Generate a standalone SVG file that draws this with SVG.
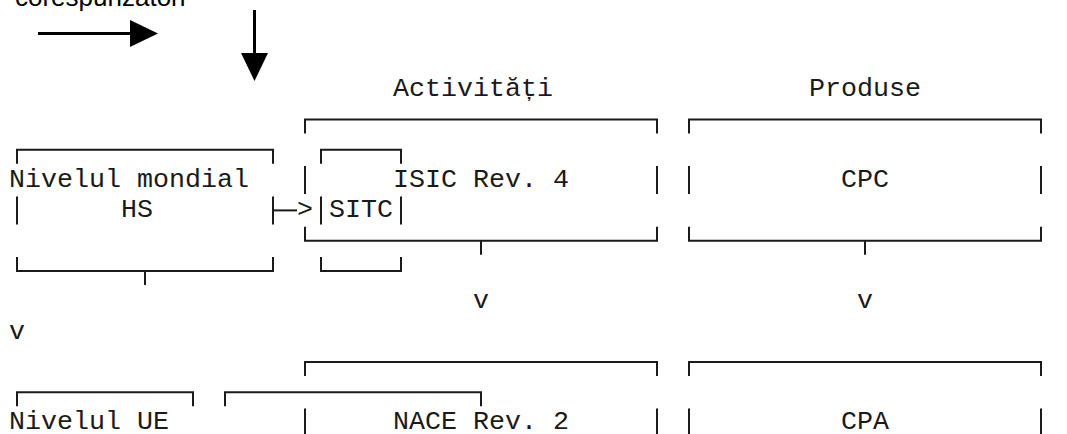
<svg xmlns="http://www.w3.org/2000/svg" width="1067" height="434" viewBox="0 0 1067 434">
  <style>
    .t { font-family: "Liberation Mono", "DejaVu Sans Mono", monospace; font-size: 26.67px; fill: #1a1a1a; }
    .s { font-family: "Liberation Sans", Arial, sans-serif; font-size: 26px; fill: #000; }
    .b { fill: none; stroke: #1a1a1a; stroke-width: 2; }
    .a { fill: none; stroke: #000; stroke-width: 3; }
  </style>
  <defs>
    <marker id="head" markerUnits="userSpaceOnUse" markerWidth="28" markerHeight="28" refX="0" refY="13.5" orient="auto" viewBox="0 0 28 27">
      <path d="M0,0 L28,13.5 L0,27 z" fill="#000"/>
    </marker>
  </defs>

  <g id="legend">
    <text class="s" x="15" y="6">corespunzători</text>
    <line class="a" x1="38" y1="33.5" x2="130" y2="33.5" marker-end="url(#head)"/>
    <line class="a" x1="254.5" y1="10" x2="254.5" y2="53" marker-end="url(#head)"/>
  </g>

  <g id="titles">
    <text class="t" x="393" y="96.1">Activități</text>
    <text class="t" x="809" y="96.1">Produse</text>
  </g>

  <g id="isic">
    <path class="b" d="M305,133.5 V119.5 H657 V133.5 M305,166.1 V194.1 M657,166.1 V194.1 M305,226.7 V240.7 H657 V226.7"/>
    <text class="t" x="393" y="187">ISIC Rev. 4</text>
  </g>

  <g id="cpc">
    <path class="b" d="M689,133.5 V119.5 H1041 V133.5 M689,166.1 V194.1 M1041,166.1 V194.1 M689,226.7 V240.7 H1041 V226.7"/>
    <text class="t" x="841" y="187">CPC</text>
  </g>

  <g id="hs">
    <path class="b" d="M17,163.8 V149.8 H273 V163.8 M17,196.4 V224.4 M273,196.4 V224.4 M17,257 V271 H273 V257"/>
    <text class="t" x="9" y="187">Nivelul mondial</text>
    <text class="t" x="121" y="217.3">HS</text>
  </g>

  <g id="sitc">
    <path class="b" d="M321,163.8 V149.8 H401 V163.8 M321,196.4 V224.4 M401,196.4 V224.4 M321,257 V271 H401 V257"/>
    <text class="t" x="329" y="217.3">SITC</text>
  </g>

  <g id="ue">
    <path class="b" d="M17,406.2 V392.2 H193 V406.2"/>
    <text class="t" x="9" y="429.4">Nivelul UE</text>
  </g>

  <g id="box-k">
    <path class="b" d="M225,406.2 V392.2 H481 V406.2"/>
  </g>

  <g id="nace">
    <path class="b" d="M305,375.9 V361.9 H657 V375.9 M305,408.5 V436.5 M657,408.5 V436.5"/>
    <text class="t" x="393" y="429.4">NACE Rev. 2</text>
  </g>

  <g id="cpa">
    <path class="b" d="M689,375.9 V361.9 H1041 V375.9 M689,408.5 V436.5 M1041,408.5 V436.5"/>
    <text class="t" x="841" y="429.4">CPA</text>
  </g>

  <g id="connectors">
    <path class="b" d="M273,210.4 H297"/>
    <text class="t" x="297" y="217.3">&gt;</text>
    <path class="b" d="M145,271 V285 M481,240.7 V254.7 M865,240.7 V254.7"/>
    <text class="t" x="473" y="308.2">v</text>
    <text class="t" x="857" y="308.2">v</text>
    <text class="t" x="9" y="338.5">v</text>
  </g>
</svg>
